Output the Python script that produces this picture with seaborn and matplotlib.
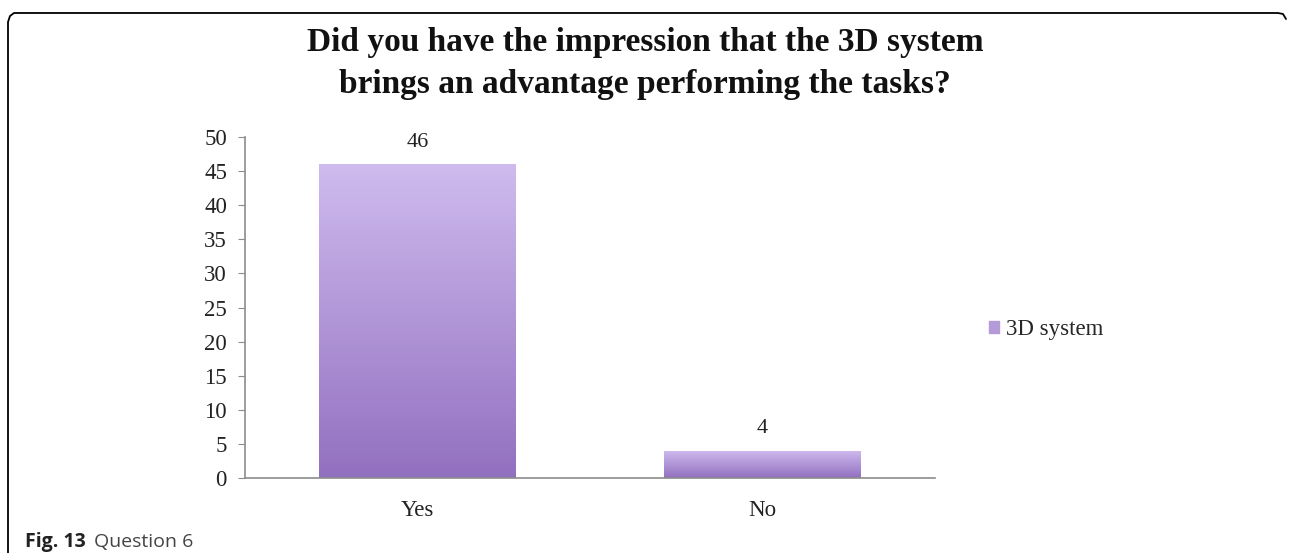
import numpy as np
import pandas as pd
import seaborn as sns
import matplotlib.pyplot as plt
from matplotlib.colors import LinearSegmentedColormap
from matplotlib.lines import Line2D

# Chart data
answers = ['Yes', 'No']
counts = [46, 4]
series_name = '3D system'
y_ticks = [0, 5, 10, 15, 20, 25, 30, 35, 40, 45, 50]

df = pd.DataFrame({'answer': answers, 'count': counts})

sns.set_style('white')
plt.rcParams['font.family'] = ['Liberation Serif', 'DejaVu Serif']

fig = plt.figure(figsize=(12.9, 5.53), dpi=100)
ax = fig.add_axes([245 / 1290, 1 - 478 / 553, (935 - 245) / 1290, (478 - 137) / 553])

sns.barplot(data=df, x='answer', y='count', color='#a88ad0', width=0.57,
            saturation=1, ax=ax)

# Vertical gradient fill on each bar, light on top and darker at the base
grad = LinearSegmentedColormap.from_list('bar_grad', ['#9270c0', '#cfbbee'])
for bar in ax.patches:
    x0, y0 = bar.get_x(), bar.get_y()
    w, h = bar.get_width(), bar.get_height()
    img = ax.imshow(np.linspace(0, 1, 256).reshape(-1, 1), cmap=grad,
                    extent=[x0, x0 + w, y0, y0 + h], origin='lower',
                    aspect='auto', zorder=bar.get_zorder() + 0.1)
    img.set_clip_path(bar)
    ax.annotate(f'{int(h)}', (x0 + w / 2, h), xytext=(0, 9),
                textcoords='offset points', ha='center', va='bottom',
                fontsize=16, color='#222222')

ax.set_xlim(-0.5, 1.5)
ax.set_ylim(0, 50)
ax.set_yticks(y_ticks)
ax.set_xlabel('')
ax.set_ylabel('')
ax.tick_params(axis='y', labelsize=16.5, length=5, color='#8c8c8c', pad=8, left=True)
ax.tick_params(axis='x', labelsize=16.5, length=0, pad=16)
for lbl in ax.get_xticklabels() + ax.get_yticklabels():
    lbl.set_color('#222222')
sns.despine(ax=ax, top=True, right=True)
for s in ['left', 'bottom']:
    ax.spines[s].set_color('#8c8c8c')
    ax.spines[s].set_linewidth(1.2)

# Legend
handle = plt.Rectangle((0, 0), 1, 1, color='#b49ad9')
fig.legend([handle], [series_name], loc='center left',
           bbox_to_anchor=(968 / 1290, 1 - 330 / 553), frameon=False,
           fontsize=16.5, handlelength=0.45, handleheight=0.45, handletextpad=0.3)

fig.text(0.5, 1 - 42 / 553, 'Did you have the impression that the 3D system',
         ha='center', va='center', fontsize=24, fontweight='bold', color='#111111')
fig.text(0.5, 1 - 85 / 553, 'brings an advantage performing the tasks?',
         ha='center', va='center', fontsize=24, fontweight='bold', color='#111111')

# Caption and border
fig.text(25 / 1290, 1 - 542 / 553, 'Fig. 13', ha='left', va='center',
         fontsize=14, fontweight='bold', family=['Open Sans', 'DejaVu Sans'], color='#222222')
fig.text(94 / 1290, 1 - 542 / 553, 'Question 6', ha='left', va='center',
         fontsize=14, family=['Open Sans', 'DejaVu Sans'], color='#444444')
bx = np.array([8, 8, 10, 14, 1278, 1283, 1286]) / 1290
by = 1 - np.array([553, 22, 16, 13, 13, 14, 19]) / 553
fig.add_artist(Line2D(bx, by, color='black', lw=1.3, transform=fig.transFigure))

fig.savefig('out.png', dpi=100)
